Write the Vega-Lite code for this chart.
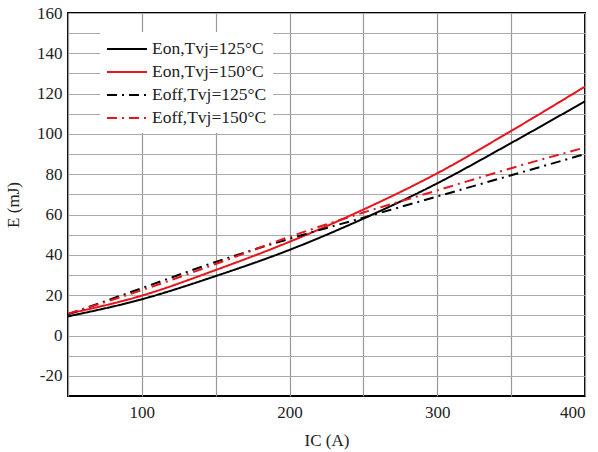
{
  "$schema": "https://vega.github.io/schema/vega-lite/v6.json",
  "width": 517,
  "height": 383,
  "autosize": {"type": "none"},
  "padding": {"left": 68, "top": 13, "right": 13, "bottom": 56},
  "background": "white",
  "config": {
    "view": {"stroke": "#000000", "strokeWidth": 2},
    "font": "Liberation Serif"
  },
  "data": {
    "values": [
      {"ic": 50, "e": 9.5, "s": "Eon,Tvj=125°C"},
      {"ic": 100, "e": 18, "s": "Eon,Tvj=125°C"},
      {"ic": 150, "e": 29.5, "s": "Eon,Tvj=125°C"},
      {"ic": 200, "e": 42.5, "s": "Eon,Tvj=125°C"},
      {"ic": 250, "e": 58, "s": "Eon,Tvj=125°C"},
      {"ic": 300, "e": 75.5, "s": "Eon,Tvj=125°C"},
      {"ic": 350, "e": 95.5, "s": "Eon,Tvj=125°C"},
      {"ic": 400, "e": 116.2, "s": "Eon,Tvj=125°C"},
      {"ic": 50, "e": 10.8, "s": "Eon,Tvj=150°C"},
      {"ic": 100, "e": 19.8, "s": "Eon,Tvj=150°C"},
      {"ic": 150, "e": 32.5, "s": "Eon,Tvj=150°C"},
      {"ic": 200, "e": 46.5, "s": "Eon,Tvj=150°C"},
      {"ic": 250, "e": 62.5, "s": "Eon,Tvj=150°C"},
      {"ic": 300, "e": 80.5, "s": "Eon,Tvj=150°C"},
      {"ic": 350, "e": 101.5, "s": "Eon,Tvj=150°C"},
      {"ic": 400, "e": 123.5, "s": "Eon,Tvj=150°C"},
      {"ic": 50, "e": 10.5, "s": "Eoff,Tvj=125°C"},
      {"ic": 100, "e": 23.5, "s": "Eoff,Tvj=125°C"},
      {"ic": 150, "e": 36.5, "s": "Eoff,Tvj=125°C"},
      {"ic": 200, "e": 48, "s": "Eoff,Tvj=125°C"},
      {"ic": 250, "e": 58.5, "s": "Eoff,Tvj=125°C"},
      {"ic": 300, "e": 69, "s": "Eoff,Tvj=125°C"},
      {"ic": 350, "e": 79.5, "s": "Eoff,Tvj=125°C"},
      {"ic": 400, "e": 90, "s": "Eoff,Tvj=125°C"},
      {"ic": 50, "e": 10.8, "s": "Eoff,Tvj=150°C"},
      {"ic": 100, "e": 22.5, "s": "Eoff,Tvj=150°C"},
      {"ic": 150, "e": 35.5, "s": "Eoff,Tvj=150°C"},
      {"ic": 200, "e": 49, "s": "Eoff,Tvj=150°C"},
      {"ic": 250, "e": 61, "s": "Eoff,Tvj=150°C"},
      {"ic": 300, "e": 72, "s": "Eoff,Tvj=150°C"},
      {"ic": 350, "e": 83, "s": "Eoff,Tvj=150°C"},
      {"ic": 400, "e": 93.3, "s": "Eoff,Tvj=150°C"}
    ]
  },
  "mark": {"type": "line", "interpolate": "monotone", "strokeWidth": 2, "clip": true},
  "encoding": {
    "x": {
      "field": "ic", "type": "quantitative",
      "scale": {"domain": [50, 400], "nice": false, "zero": false},
      "axis": {
        "values": [50, 100, 150, 200, 250, 300, 350, 400],
        "labelExpr": "datum.value % 100 == 0 ? '' + datum.value : ''",
        "title": "IC (A)",
        "titleFont": "Liberation Serif", "titleFontSize": 17, "titleFontWeight": "normal", "titleColor": "#222",
        "titlePadding": 12,
        "labelFont": "Liberation Serif", "labelFontSize": 17, "labelColor": "#222", "labelPadding": 8,
        "ticks": false, "domain": false,
        "gridColor": "#999999", "gridWidth": 1.2
      }
    },
    "y": {
      "field": "e", "type": "quantitative",
      "scale": {"domain": [-30, 160], "nice": false, "zero": false},
      "axis": {
        "values": [-20, -10, 0, 10, 20, 30, 40, 50, 60, 70, 80, 90, 100, 110, 120, 130, 140, 150, 160],
        "labelExpr": "datum.value % 20 == 0 ? '' + datum.value : ''",
        "title": "E (mJ)",
        "titleFont": "Liberation Serif", "titleFontSize": 17, "titleFontWeight": "normal", "titleColor": "#222",
        "titlePadding": 14,
        "labelFont": "Liberation Serif", "labelFontSize": 17, "labelColor": "#222", "labelPadding": 6,
        "ticks": false, "domain": false,
        "gridColor": "#aaaaaa", "gridWidth": 1.2
      }
    },
    "color": {
      "field": "s", "type": "nominal",
      "scale": {
        "domain": ["Eon,Tvj=125°C", "Eon,Tvj=150°C", "Eoff,Tvj=125°C", "Eoff,Tvj=150°C"],
        "range": ["#000000", "#e8141b", "#000000", "#e8141b"]
      },
      "legend": {
        "title": null,
        "orient": "none",
        "legendX": 32,
        "legendY": 19,
        "fillColor": "white",
        "padding": 6,
        "symbolType": "M-1,0H3",
        "symbolSize": 400,
        "symbolStrokeWidth": 2,
        "labelFont": "Liberation Serif",
        "labelFontSize": 17.5,
        "labelColor": "#222",
        "rowPadding": 3,
        "labelOffset": 24
      }
    },
    "strokeDash": {
      "field": "s", "type": "nominal",
      "scale": {
        "domain": ["Eon,Tvj=125°C", "Eon,Tvj=150°C", "Eoff,Tvj=125°C", "Eoff,Tvj=150°C"],
        "range": [[1, 0], [1, 0], [10, 5, 2, 5], [10, 5, 2, 5]]
      },
      "legend": null
    }
  }
}
